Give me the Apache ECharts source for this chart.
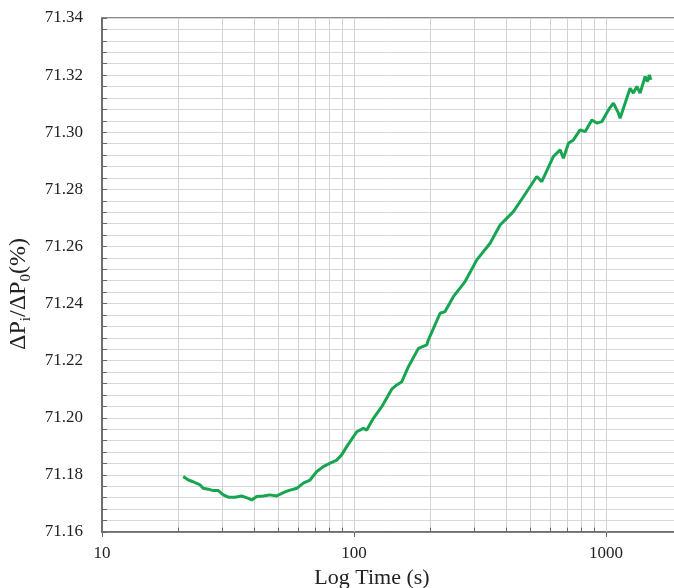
<!DOCTYPE html>
<html>
<head>
<meta charset="utf-8">
<script src="https://cdn.jsdelivr.net/npm/echarts@6/dist/echarts.min.js"></script>
<style>html,body{margin:0;padding:0;background:#fff;}#c{width:674px;height:588px;}</style>
</head>
<body>
<div id="c"></div>
<script>
// time (s)
const times = [21.0, 22.0, 23.0, 24.5, 25.2, 26.4, 27.6, 28.9, 30.3, 31.7, 33.7, 35.8, 38.1, 39.3, 41.1, 43.7, 46.4, 49.3, 52.4, 54.9, 59.3, 62.9, 66.9, 71.0, 75.5, 80.0, 85.4, 89.3, 93.5, 102.5, 108.9, 112.3, 119.3, 128.8, 141.1, 147.7, 149.9, 154.6, 164.3, 180.0, 182.8, 194.3, 197.2, 219.5, 222.8, 229.6, 247.7, 275.7, 306.9, 346.5, 379.6, 428.7, 469.7, 530.9, 555.6, 617.9, 656.9, 677.0, 708.6, 741.7, 788.6, 825.5, 877.6, 918.7, 961.4, 1021, 1069, 1119, 1136, 1190, 1245, 1283, 1324, 1364, 1428, 1458, 1485, 1504];
// ΔPi/ΔP0 (%)
const ratios = [71.1794, 71.1782, 71.1776, 71.1765, 71.1753, 71.1750, 71.1745, 71.1745, 71.1730, 71.1722, 71.1722, 71.1726, 71.1718, 71.1712, 71.1724, 71.1726, 71.1730, 71.1726, 71.1738, 71.1745, 71.1753, 71.1771, 71.1782, 71.1811, 71.1829, 71.1840, 71.1852, 71.1870, 71.1899, 71.1951, 71.1963, 71.1957, 71.1998, 71.2039, 71.2100, 71.2115, 71.2109, 71.2126, 71.2179, 71.2243, 71.2249, 71.2255, 71.2273, 71.2366, 71.2360, 71.2372, 71.2424, 71.2477, 71.2553, 71.2611, 71.2675, 71.2722, 71.2774, 71.2845, 71.2827, 71.2915, 71.2938, 71.2909, 71.2961, 71.2973, 71.3008, 71.3002, 71.3043, 71.3032, 71.3037, 71.3078, 71.3102, 71.3067, 71.3049, 71.3102, 71.3154, 71.3137, 71.3160, 71.3137, 71.3195, 71.3177, 71.3201, 71.3183];
const xMajorLabels = [10, 100, 1000];
const xMinorGrid = [20,30,40,50,60,70,80,90,100,200,300,400,500,600,700,800,900,1000,2000];
const yMin = 71.16, yMax = 71.34, yStep = 0.02;

const seriesData = times.map((t, i) => [t, ratios[i]]);
const serif = 'Liberation Serif';

const gridLines = xMinorGrid.map(v => [{coord: [v, yMin]}, {coord: [v, yMax]}]);
const minorTicks = xMinorGrid.filter(v => !xMajorLabels.includes(v)).map(v => [{coord: [v, yMin]}, {coord: [v, yMin + 0.0015]}]);

const chart = echarts.init(document.getElementById('c'), null, {renderer: 'canvas'});
chart.setOption({
  animation: false,
  backgroundColor: '#fff',
  grid: {left: 102, top: 18, right: -8, bottom: 56, outerBoundsMode: 'none', containLabel: false,
    show: true, borderColor: '#666', borderWidth: 1.5, backgroundColor: 'transparent'},
  xAxis: {
    type: 'log', logBase: 10, min: 10, max: 2000,
    name: 'Log Time (s)', nameLocation: 'middle', nameGap: 34,
    nameTextStyle: {fontFamily: serif, fontSize: 22, color: '#222', padding: [0, 40, 0, 0]},
    axisLine: {show: true, lineStyle: {color: '#666', width: 1.5}},
    axisTick: {show: true, inside: false, length: 5, lineStyle: {color: '#666'}},
    axisLabel: {fontFamily: serif, fontSize: 17, color: '#222', margin: 13,
      formatter: v => { const r = Math.round(v); return xMajorLabels.includes(r) ? String(r) : ''; }},
    splitLine: {show: false}
  },
  yAxis: {
    type: 'value', min: yMin, max: yMax, interval: yStep,
    name: '{a|ΔP}{s|i}{a|/ΔP}{s|0}{a|(%)}', nameLocation: 'middle', nameGap: 64,
    nameTextStyle: {
      padding: [0, 38, 0, 0],
      rich: {
        a: {fontFamily: serif, fontSize: 24, color: '#222', lineHeight: 30},
        s: {fontFamily: serif, fontSize: 15, color: '#222', lineHeight: 30, verticalAlign: 'bottom'}
      }
    },
    axisLine: {show: true, lineStyle: {color: '#666', width: 1.5}},
    axisTick: {show: true, inside: true, length: 5, lineStyle: {color: '#666'}},
    minorTick: {show: true, splitNumber: 5, length: 5, lineStyle: {color: '#666'}},
    axisLabel: {fontFamily: serif, fontSize: 17, color: '#222', margin: 19, formatter: v => v.toFixed(2)},
    splitLine: {show: true, lineStyle: {color: '#d8d8d8', width: 1}},
    minorSplitLine: {show: true, lineStyle: {color: '#d8d8d8', width: 1}}
  },
  series: [
    {
      type: 'line', data: seriesData, z: 1, showSymbol: false, silent: true,
      lineStyle: {opacity: 0}, itemStyle: {opacity: 0},
      markLine: {silent: true, symbol: 'none', z: 1, animation: false, label: {show: false},
        lineStyle: {color: '#d2d2d2', width: 1, type: 'solid'}, data: gridLines}
    },
    {
      type: 'line', data: seriesData, z: 1, showSymbol: false, silent: true,
      lineStyle: {opacity: 0}, itemStyle: {opacity: 0},
      markLine: {silent: true, symbol: 'none', z: 6, animation: false, label: {show: false},
        lineStyle: {color: '#666', width: 1, type: 'solid'}, data: minorTicks}
    },
    {
      type: 'line', data: seriesData, z: 3, showSymbol: false, smooth: false,
      lineStyle: {color: '#17a552', width: 3}
    }
  ]
});
</script>
</body>
</html>
